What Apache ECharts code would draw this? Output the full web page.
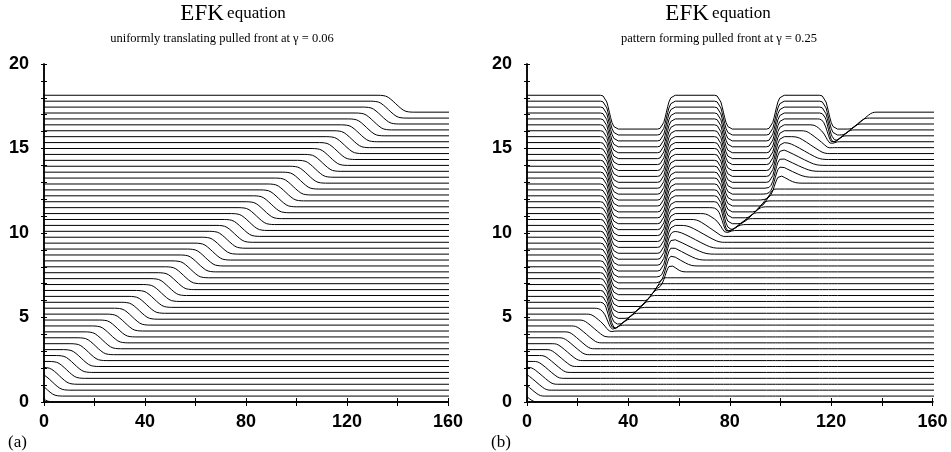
<!DOCTYPE html>
<html><head><meta charset="utf-8">
<script src="https://cdn.jsdelivr.net/npm/echarts@6/dist/echarts.min.js"></script>
<style>html,body{margin:0;padding:0;background:#fff}#c{width:951px;height:452px}</style>
</head><body><div id="c"></div>
<script>
// ---------------- data ----------------
const xTickLabels = [0, 40, 80, 120, 160];
const yTickLabels = [0, 5, 10, 15, 20];
// vertical offset of each profile (time)
const offsets = [0,0.35,0.7,1.05,1.4,1.75,2.1,2.45,2.8,3.15,3.5,3.85,4.2,4.55,4.9,5.25,5.6,5.95,6.3,6.65,7,7.35,7.7,8.05,8.4,8.75,9.1,9.45,9.8,10.15,10.5,10.85,11.2,11.55,11.9,12.25,12.6,12.95,13.3,13.65,14,14.35,14.7,15.05,15.4,15.75,16.1,16.45,16.8,17.15];

// panel (a): front centre of every profile
const frontCenterA = [-2.5,0.4,3.2,6.1,9.0,11.9,14.7,17.6,20.5,23.3,26.2,29.1,32.0,34.9,37.8,40.7,43.6,46.5,49.4,52.3,55.2,58.1,61.0,63.9,66.8,69.7,72.6,75.5,78.4,81.3,84.2,87.1,90.0,92.9,95.8,98.7,101.6,104.5,107.4,110.3,113.2,116.1,119.0,121.9,124.8,127.7,130.6,133.5,136.4,139.3];
// panel (a): shape of the step (distance from centre, height fraction)
const stepDX = [-7,-6,-5,-4,-3,-2,-1,0,1,2,3,4,5,6,7];
const stepU  = [1,0.995,0.98,0.95,0.88,0.77,0.64,0.5,0.36,0.23,0.12,0.05,0.02,0.005,0];

// panel (b): positions where the pattern flips sign
const flipX  = [32.5, 55, 77.5, 98, 119];
const flipDX = [-3.5,-2.5,-1.75,-1,-0.5,0,0.5,1,1.75,2.5,3.5];
const flipS  = [1,0.96,0.85,0.6,0.32,0,-0.32,-0.6,-0.85,-0.96,-1];
// panel (b): shape of the leading edge (fraction of [start,end], amplitude)
const rampT = [-0.2,-0.1,0,0.1,0.2,0.35,0.5,0.65,0.8,0.9,1,1.1,1.2];
const rampA = [1,0.995,0.97,0.91,0.82,0.665,0.5,0.335,0.18,0.09,0.03,0.005,0];
// panel (b): start / end of the leading edge of every profile
const frontStartB = [-5.8,-3.3,-0.8,1.7,4.2,6.7,9.2,11.7,14.3,16.6,19.2,22.2,25.2,28.2,31.2,34.2,37.2,40.1,42.7,45.3,47.4,49.3,51.5,52.5,54,56,59.5,63,66.8,70.5,74.1,77.7,81.3,84.8,87.5,90.2,92.9,93.5,95,97,100,103,106.5,110,113.3,116.2,119.2,122.1,125,128];
const frontEndB   = [2.8,5.3,7.8,10.3,12.8,15.3,17.8,20.3,22.9,25.0,27.8,30.8,33.8,36.8,39.7,42.3,44.9,47.1,49.0,50.9,52.3,53.7,61,65,68,71,73.5,76,77.5,80.8,84.4,87.1,89.8,92.5,94.2,95.8,97.4,106,110,112.5,114.5,116,117.5,119.5,121.7,124.6,127.6,130.5,133.4,136.4];

// ---------------- helpers ----------------
function lin(xs, ys, x) {
  if (x <= xs[0]) return ys[0];
  const n = xs.length - 1;
  if (x >= xs[n]) return ys[n];
  for (let i = 0; i < n; i++) {
    if (x <= xs[i + 1]) {
      const f = (x - xs[i]) / (xs[i + 1] - xs[i]);
      return ys[i] + f * (ys[i + 1] - ys[i]);
    }
  }
  return ys[n];
}
function pattern(x) {
  let s = 1;
  const lo = flipDX[0], hi = flipDX[flipDX.length - 1];
  for (const T of flipX) {
    if (x <= T + lo) return s;
    if (x < T + hi) return s * lin(flipDX, flipS, x - T);
    s = -s;
  }
  return s;
}

const series = [];
const lineStyle = { color: '#000', width: 1 };
// panel (a)
offsets.forEach((o, k) => {
  const c = frontCenterA[k];
  const pts = [[-20, o + 1]];
  stepDX.forEach((d, i) => pts.push([c + d, o + stepU[i]]));
  pts.push([180, o]);
  series.push({ type: 'line', xAxisIndex: 0, yAxisIndex: 0, data: pts, symbol: 'none',
    lineStyle, silent: true, animation: false, clip: true });
});
// panel (b)
offsets.forEach((o, k) => {
  const a = frontStartB[k], b = frontEndB[k];
  let xs = [-20, 180];
  flipX.forEach(T => flipDX.forEach(d => xs.push(T + d)));
  rampT.forEach(t => xs.push(a + t * (b - a)));
  xs = Array.from(new Set(xs.map(v => Math.round(v * 100) / 100))).sort((p, q) => p - q);
  const pts = xs.map(x => [x, o + pattern(x) * lin(rampT, rampA, (x - a) / (b - a))]);
  series.push({ type: 'line', xAxisIndex: 2, yAxisIndex: 2, data: pts, symbol: 'none',
    lineStyle, silent: true, animation: false, clip: true });
});

const axisLine = { show: true, lineStyle: { color: '#000', width: 1.5 } };
const labelFont = { fontFamily: 'Liberation Sans, Arial, sans-serif', fontWeight: 'bold', fontSize: 18, color: '#000' };
function xAxes(grid) {
  return [
    { gridIndex: grid, type: 'value', min: 0, max: 160, interval: 20, position: 'bottom',
      axisLine, splitLine: { show: false },
      axisTick: { inside: true, length: 4, lineStyle: { color: '#000' } },
      axisLabel: Object.assign({ margin: 11, formatter: v => xTickLabels.includes(v) ? String(v) : '' }, labelFont) },
    { gridIndex: grid, type: 'value', min: 0, max: 160, interval: 20, position: 'top',
      axisLine, splitLine: { show: false },
      axisTick: { inside: true, length: 4, lineStyle: { color: '#000' } }, axisLabel: { show: false } }
  ];
}
function yAxes(grid) {
  return [
    { gridIndex: grid, type: 'value', min: 0, max: 20, interval: 1, position: 'left',
      axisLine, splitLine: { show: false },
      axisTick: { inside: true, length: 3, lineStyle: { color: '#000' } },
      axisLabel: Object.assign({ margin: 15, formatter: v => yTickLabels.includes(v) ? String(v) : '' }, labelFont) },
    { gridIndex: grid, type: 'value', min: 0, max: 20, interval: 1, position: 'right',
      axisLine, splitLine: { show: false },
      axisTick: { inside: true, length: 3, lineStyle: { color: '#000' } }, axisLabel: { show: false } }
  ];
}
const serif = 'Liberation Serif, Times New Roman, serif';
function titleText(cx, sub, sx) {
  return [
    { type: 'text', style: { x: cx, y: 2, text: '{b|EFK} {s|equation}', align: 'center', verticalAlign: 'top',
      rich: { b: { fontFamily: serif, fontSize: 23, fill: '#000' }, s: { fontFamily: serif, fontSize: 17, fill: '#000' } } } },
    { type: 'text', style: { x: sx, y: 32, text: sub, align: 'center', verticalAlign: 'top',
      fontFamily: serif, fontSize: 12.5, fill: '#000' } }
  ];
}
const graphic = [].concat(
  titleText(233, 'uniformly translating pulled front at γ = 0.06', 222),
  titleText(718, 'pattern forming pulled front at γ = 0.25', 719),
  [
    { type: 'text', style: { x: 8, y: 434, text: '(a)', fontFamily: serif, fontSize: 17, fill: '#000' } },
    { type: 'text', style: { x: 491, y: 434, text: '(b)', fontFamily: serif, fontSize: 17, fill: '#000' } }
  ]
);

const chart = echarts.init(document.getElementById('c'), null, { renderer: 'canvas' });
chart.setOption({
  animation: false,
  backgroundColor: '#fff',
  grid: [
    { left: 44, top: 64, width: 404, height: 338 },
    { left: 527, top: 64, width: 405.5, height: 338 }
  ],
  xAxis: xAxes(0).concat(xAxes(1)),
  yAxis: yAxes(0).concat(yAxes(1)),
  series,
  graphic
});
</script></body></html>
